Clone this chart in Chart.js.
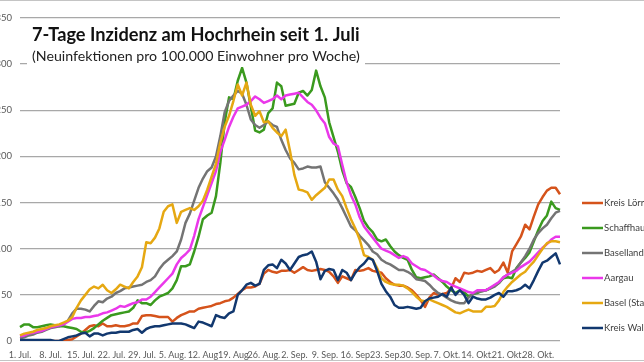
<!DOCTYPE html>
<html>
<head>
<meta charset="utf-8">
<script src="https://cdn.jsdelivr.net/npm/chart.js@4.4.0/dist/chart.umd.min.js"></script>
<style>
  html, body { margin: 0; padding: 0; background: #fff; }
  canvas { display: block; }
</style>
</head>
<body>
<canvas id="chart" width="644" height="362"></canvas>
<script>
// Tageswerte 1. Juli - 2. Nov
const months = [['Jul', 31], ['Aug', 31], ['Sep', 30], ['Okt', 31], ['Nov', 2]];
const tickLabels = ['1. Jul.', '8. Jul.', '15. Jul.', '22. Jul.', '29. Jul.', '5. Aug.', '12. Aug', '19. Aug',
    '26. Aug.', '2. Sep.', '9. Sep.', '16. Sep', '23. Sep.', '30. Sep.', '7. Okt.', '14. Okt.', '21. Okt.', '28. Okt.'];

const lorrach = [0,0,0,0,0,0,0,0,0,0, 0,1,2,5,8,12,16,17,16,19, 16,16,17,16,16,17,19,19,27,28,
    28,27,26,26,26,21,25,28,30,32, 32,35,36,37,38,40,41,43,44,47, 51,55,58,58,59,62,73,77,75,74,
    76,76,77,74,77,80,77,76,77,78, 77,75,70,63,70,68,66,77,76,77, 79,76,75,74,68,64,61,60,60,58,
    55,50,44,37,47,52,50,51,52,57, 68,64,74,73,74,76,75,77,79,74, 77,85,74,97,105,113,126,121,135,148,
    156,163,166,166,159];

const schaffhausen = [15,18,18,15,15,16,17,18,17,16, 16,15,14,13,10,9,11,14,18,22, 25,28,29,30,31,32,36,44,41,41,
    39,44,48,50,52,57,66,81,81,83, 97,113,132,136,139,157,193,237,264,262, 282,296,280,254,228,226,229,247,252,280,
    276,255,256,257,269,271,266,272,293,276, 264,237,221,205,185,171,167,156,144,130, 123,118,110,108,110,103,97,93,90,88,
    77,69,68,69,70,72,68,64,59,55, 52,55,53,48,51,52,54,55,57,60, 63,68,69,68,79,85,90,96,108,120,
    130,136,151,144,142];

const baselland = [3,4,6,7,9,10,12,14,15,16, 18,22,30,35,35,34,32,38,43,42, 46,48,52,54,57,58,59,60,61,64,
    66,70,78,84,88,92,97,110,128,138, 152,166,176,184,188,200,222,248,260,266, 271,268,256,240,234,231,234,238,234,232,
    218,207,198,193,186,187,189,188,188,189, 172,166,160,153,144,134,124,120,114,109, 104,97,94,88,85,83,80,77,77,75,
    72,67,66,65,61,56,52,50,47,44, 42,41,41,47,51,53,54,55,57,59, 63,69,72,75,78,85,92,100,110,117,
    122,126,133,139,141];

const aargau = [5,6,8,9,10,11,13,15,16,17, 18,21,24,25,25,26,26,27,28,30, 31,33,35,38,37,39,41,42,45,45,
    48,53,58,63,68,73,83,90,94,99, 114,132,145,158,171,184,205,218,232,243, 252,254,256,260,265,262,258,260,262,266,
    262,266,267,268,269,264,259,256,250,242, 236,221,214,211,191,172,158,148,134,124, 118,112,106,100,98,96,93,90,92,90,
    84,81,78,77,74,71,67,65,64,61, 59,57,55,53,52,55,55,55,58,61, 64,69,72,74,76,80,83,86,91,96,
    101,105,110,113,113];

const baselStadt = [6,8,9,10,12,13,14,16,17,18, 20,22,26,36,44,50,56,59,57,61, 55,52,56,61,59,57,64,70,80,107,
    106,112,122,140,146,148,128,140,142,144, 142,146,152,164,178,192,215,232,244,260, 278,266,280,256,244,249,237,238,231,226,
    222,229,206,180,164,163,161,153,158,162, 166,175,175,164,157,144,132,122,110,93, 91,88,79,68,64,62,61,61,60,57,
    53,48,44,43,45,43,41,39,37,34, 31,30,32,34,32,32,32,37,37,38, 44,53,59,64,68,72,75,81,86,93,
    100,106,108,108,107];

const waldshut = [1,1,1,1,1,1,1,1,0,0, 2,4,5,6,8,9,5,8,8,6, 8,9,9,10,10,10,12,13,9,13,
    15,16,16,17,18,19,19,19,18,16, 14,21,20,18,16,28,26,25,30,32, 50,55,61,63,60,62,77,82,83,79,
    88,84,77,84,91,93,94,97,86,67, 76,78,77,66,77,74,66,74,80,84, 90,88,76,62,54,48,39,36,36,37,
    36,35,36,43,46,47,48,51,48,58, 50,55,50,41,48,46,45,45,47,50, 52,48,54,54,55,57,61,57,66,76,
    85,87,91,95,83];

const series = [
    { label: 'Kreis Lörrach', data: lorrach, color: '#d5531b' },
    { label: 'Schaffhausen', data: schaffhausen, color: '#3a9a1e' },
    { label: 'Baselland', data: baselland, color: '#747474' },
    { label: 'Aargau', data: aargau, color: '#ea38ea' },
    { label: 'Basel (Stadt)', data: baselStadt, color: '#e6a812' },
    { label: 'Kreis Waldshut', data: waldshut, color: '#12386f' }
];

let days = [];
months.forEach(m => {
    for (let d = 1; d <= m[1]; d++) days.push(d + '. ' + m[0]);
});

const FONT = 'Lato, "Open Sans", sans-serif';

const overlay = {
    id: 'overlay',
    afterDraw(chart) {
        const c = chart.ctx;
        c.save();
        // Titelkasten
        c.fillStyle = '#fff';
        c.fillRect(27, 21, 338, 46);

        c.fillStyle = '#111';
        c.textBaseline = 'alphabetic';
        c.textAlign = 'left';
        c.font = 'bold 18px ' + FONT;
        let w = c.measureText('7-Tage Inzidenz am Hochrhein seit 1. Juli').width;
        c.font = 'bold ' + (18 * 328 / w).toFixed(2) + 'px ' + FONT;
        c.fillText('7-Tage Inzidenz am Hochrhein seit 1. Juli', 32, 41);

        c.fillStyle = '#222';
        c.font = '13px ' + FONT;
        w = c.measureText('(Neuinfektionen pro 100.000 Einwohner pro Woche)').width;
        c.font = (13 * 328 / w).toFixed(2) + 'px ' + FONT;
        c.fillText('(Neuinfektionen pro 100.000 Einwohner pro Woche)', 32, 61);

        // Legende
        c.font = '9.5px ' + FONT;
        c.textBaseline = 'middle';
        series.forEach((s, i) => {
            const y = 203 + i * 25;
            c.strokeStyle = s.color;
            c.lineWidth = 2.5;
            c.beginPath();
            c.moveTo(582, y);
            c.lineTo(603, y);
            c.stroke();
            c.fillStyle = '#404040';
            c.fillText(s.label, 604, y);
        });

        // Rahmen oben/unten
        c.strokeStyle = '#c4c4c4';
        c.lineWidth = 1;
        c.beginPath();
        c.moveTo(0, 0.5); c.lineTo(644, 0.5);
        c.moveTo(0, 360.5); c.lineTo(644, 360.5);
        c.stroke();
        c.restore();
    }
};

const ctx = document.getElementById('chart').getContext('2d');
new Chart(ctx, {
    type: 'line',
    data: {
        labels: days,
        datasets: series.map((s, i) => ({
            label: s.label,
            data: s.data,
            borderColor: s.color,
            backgroundColor: s.color,
            borderWidth: 2.5,
            pointRadius: 0,
            tension: 0,
            fill: false,
            borderJoinStyle: 'round',
            order: series.length - i
        }))
    },
    options: {
        responsive: false,
        animation: false,
        devicePixelRatio: 1,
        layout: { padding: { top: 18, right: 84, left: 0, bottom: 0 } },
        plugins: {
            legend: { display: false },
            tooltip: { enabled: false }
        },
        scales: {
            x: {
                grid: { display: false },
                border: { display: false },
                ticks: {
                    autoSkip: false,
                    maxRotation: 0,
                    padding: 1,
                    color: '#595959',
                    font: { family: FONT, size: 9 },
                    callback: (v, i) => (i % 7 === 0 ? tickLabels[i / 7] : '')
                },
                afterFit: s => { s.height = 21; }
            },
            y: {
                min: 0,
                max: 350,
                ticks: {
                    stepSize: 50,
                    padding: 8,
                    color: '#595959',
                    font: { family: FONT, size: 9.5 }
                },
                grid: { color: '#a8a8a8', lineWidth: 1.3, drawTicks: false },
                border: { display: false },
                afterFit: s => { s.height = s.height; s.width = 20; }
            }
        }
    },
    plugins: [overlay]
});
</script>
</body>
</html>
